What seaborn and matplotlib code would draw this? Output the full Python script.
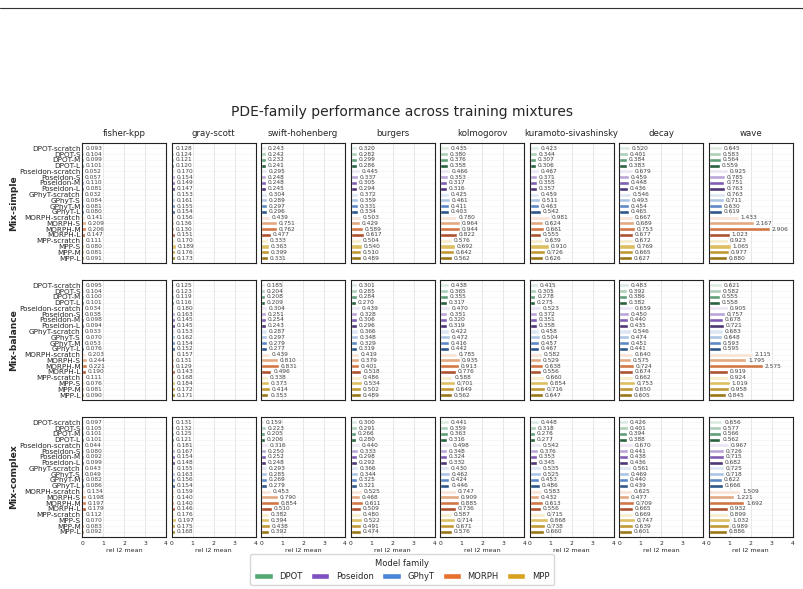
import matplotlib
matplotlib.use("Agg")
import matplotlib.pyplot as plt
import seaborn as sns
import pandas as pd
import numpy as np
from matplotlib.lines import Line2D
from matplotlib.patches import Patch

models = ['DPOT-scratch', 'DPOT-S', 'DPOT-M', 'DPOT-L',
          'Poseidon-scratch', 'Poseidon-S', 'Poseidon-M', 'Poseidon-L',
          'GPhyT-scratch', 'GPhyT-S', 'GPhyT-M', 'GPhyT-L',
          'MORPH-scratch', 'MORPH-S', 'MORPH-M', 'MORPH-L',
          'MPP-scratch', 'MPP-S', 'MPP-M', 'MPP-L']
tasks = ['fisher-kpp', 'gray-scott', 'swift-hohenberg', 'burgers',
         'kolmogorov', 'kuramoto-sivashinsky', 'decay', 'wave']
mixtures = ['Mix-simple', 'Mix-balance', 'Mix-complex']
families = ['DPOT', 'Poseidon', 'GPhyT', 'MORPH', 'MPP']

mix_simple = {
    'fisher-kpp': [0.093, 0.104, 0.099, 0.101, 0.052, 0.057, 0.110, 0.081, 0.032, 0.084,
                   0.081, 0.080, 0.141, 0.209, 0.206, 0.147, 0.111, 0.080, 0.081, 0.091],
    'gray-scott': [0.128, 0.124, 0.121, 0.120, 0.170, 0.154, 0.149, 0.147, 0.153, 0.161,
                   0.155, 0.154, 0.156, 0.136, 0.130, 0.151, 0.170, 0.189, 0.176, 0.173],
    'swift-hohenberg': [0.243, 0.242, 0.232, 0.241, 0.295, 0.248, 0.248, 0.245, 0.304, 0.289,
                        0.297, 0.296, 0.439, 0.751, 0.762, 0.477, 0.333, 0.363, 0.399, 0.331],
    'burgers': [0.320, 0.282, 0.299, 0.286, 0.445, 0.337, 0.305, 0.294, 0.372, 0.359,
                0.331, 0.334, 0.503, 0.429, 0.589, 0.617, 0.504, 0.540, 0.510, 0.489],
    'kolmogorov': [0.435, 0.380, 0.376, 0.358, 0.466, 0.353, 0.317, 0.316, 0.425, 0.461,
                   0.411, 0.403, 0.780, 0.964, 0.944, 0.822, 0.576, 0.692, 0.642, 0.562],
    'kuramoto-sivashinsky': [0.423, 0.344, 0.307, 0.306, 0.467, 0.371, 0.355, 0.357, 0.459, 0.511,
                             0.463, 0.542, 0.981, 0.624, 0.661, 0.555, 0.639, 0.910, 0.726, 0.626],
    'decay': [0.520, 0.401, 0.384, 0.383, 0.679, 0.459, 0.448, 0.436, 0.546, 0.493,
              0.454, 0.465, 0.667, 0.689, 0.753, 0.677, 0.672, 0.769, 0.665, 0.627],
    'wave': [0.645, 0.583, 0.564, 0.559, 0.925, 0.785, 0.751, 0.763, 0.763, 0.711,
             0.630, 0.619, 1.433, 2.167, 2.906, 1.023, 0.923, 1.065, 0.977, 0.880],
}
mix_balance = {
    'fisher-kpp': [0.095, 0.104, 0.100, 0.101, 0.034, 0.038, 0.098, 0.094, 0.033, 0.070,
                   0.053, 0.076, 0.203, 0.244, 0.221, 0.190, 0.111, 0.076, 0.081, 0.090],
    'gray-scott': [0.125, 0.123, 0.119, 0.116, 0.180, 0.163, 0.145, 0.145, 0.153, 0.162,
                   0.154, 0.152, 0.157, 0.131, 0.129, 0.143, 0.168, 0.184, 0.172, 0.171],
    'swift-hohenberg': [0.185, 0.204, 0.208, 0.209, 0.304, 0.251, 0.254, 0.243, 0.287, 0.297,
                        0.279, 0.277, 0.439, 0.810, 0.831, 0.496, 0.338, 0.373, 0.414, 0.353],
    'burgers': [0.301, 0.285, 0.284, 0.270, 0.439, 0.328, 0.306, 0.296, 0.366, 0.348,
                0.329, 0.319, 0.419, 0.379, 0.401, 0.518, 0.486, 0.534, 0.502, 0.489],
    'kolmogorov': [0.438, 0.365, 0.355, 0.317, 0.470, 0.351, 0.320, 0.319, 0.422, 0.472,
                   0.416, 0.442, 0.785, 0.935, 0.913, 0.776, 0.588, 0.701, 0.649, 0.562],
    'kuramoto-sivashinsky': [0.415, 0.305, 0.278, 0.275, 0.523, 0.372, 0.351, 0.358, 0.458, 0.504,
                             0.457, 0.467, 0.582, 0.529, 0.638, 0.556, 0.660, 0.854, 0.716, 0.647],
    'decay': [0.483, 0.392, 0.386, 0.382, 0.659, 0.450, 0.440, 0.435, 0.546, 0.474,
              0.451, 0.441, 0.640, 0.575, 0.724, 0.674, 0.662, 0.753, 0.650, 0.605],
    'wave': [0.621, 0.582, 0.555, 0.558, 0.905, 0.757, 0.678, 0.721, 0.683, 0.648,
             0.593, 0.595, 2.115, 1.795, 2.575, 0.919, 0.924, 1.019, 0.958, 0.845],
}
mix_complex = {
    'fisher-kpp': [0.097, 0.105, 0.101, 0.101, 0.044, 0.080, 0.092, 0.099, 0.043, 0.049,
                   0.082, 0.086, 0.134, 0.198, 0.197, 0.179, 0.112, 0.070, 0.083, 0.092],
    'gray-scott': [0.131, 0.132, 0.125, 0.121, 0.181, 0.167, 0.154, 0.148, 0.155, 0.163,
                   0.156, 0.154, 0.159, 0.140, 0.140, 0.146, 0.176, 0.197, 0.175, 0.168],
    'swift-hohenberg': [0.159, 0.223, 0.205, 0.206, 0.316, 0.250, 0.252, 0.248, 0.293, 0.285,
                        0.269, 0.279, 0.453, 0.790, 0.854, 0.510, 0.382, 0.394, 0.438, 0.392],
    'burgers': [0.300, 0.291, 0.266, 0.280, 0.440, 0.333, 0.298, 0.292, 0.366, 0.344,
                0.325, 0.321, 0.525, 0.468, 0.611, 0.509, 0.480, 0.522, 0.491, 0.474],
    'kolmogorov': [0.441, 0.359, 0.363, 0.316, 0.498, 0.348, 0.324, 0.332, 0.430, 0.462,
                   0.424, 0.446, 0.747, 0.909, 0.885, 0.736, 0.587, 0.714, 0.671, 0.576],
    'kuramoto-sivashinsky': [0.448, 0.318, 0.276, 0.277, 0.542, 0.376, 0.353, 0.345, 0.535, 0.525,
                             0.453, 0.486, 0.583, 0.432, 0.613, 0.556, 0.715, 0.868, 0.738, 0.660],
    'decay': [0.426, 0.401, 0.394, 0.388, 0.670, 0.441, 0.438, 0.436, 0.561, 0.469,
              0.440, 0.439, 0.625, 0.477, 0.709, 0.665, 0.669, 0.747, 0.639, 0.601],
    'wave': [0.656, 0.577, 0.566, 0.562, 0.967, 0.726, 0.715, 0.682, 0.725, 0.718,
             0.622, 0.666, 1.509, 1.221, 1.692, 0.932, 0.899, 1.032, 0.989, 0.886],
}
mix_data = [mix_simple, mix_balance, mix_complex]

# scratch -> S -> M -> L, light to dark
shades = {
    'DPOT': ['#d8eedf', '#a6d5b5', '#55a874', '#1d6b3d'],
    'Poseidon': ['#ece3f7', '#b89ee0', '#7e4fc0', '#4a2b80'],
    'GPhyT': ['#d9e6f8', '#a3c4ee', '#4a86d8', '#1e5699'],
    'MORPH': ['#fde1d1', '#f4a56e', '#e8702e', '#c2481a'],
    'MPP': ['#fdf0c3', '#f2c84b', '#d9a21e', '#b07f00'],
}
family_color = {'DPOT': '#55a874', 'Poseidon': '#7e4fc0', 'GPhyT': '#4a86d8',
                'MORPH': '#e8702e', 'MPP': '#d9a21e'}
palette = {}
for f in families:
    for m, c in zip([m for m in models if m.startswith(f + '-')], shades[f]):
        palette[m] = c

sns.set_style('whitegrid')
plt.rcParams['font.family'] = ['DejaVu Sans']

fig, axes = plt.subplots(3, 8, figsize=(8.04, 5.89), dpi=100, sharex=True, sharey=True)
fig.subplots_adjust(left=0.102, right=0.986, top=0.757, bottom=0.088,
                    wspace=0.065, hspace=0.14)

for r, mix in enumerate(mixtures):
    for c, task in enumerate(tasks):
        ax = axes[r, c]
        df = pd.DataFrame({'model': models, 'value': mix_data[r][task]})
        sns.barplot(data=df, x='value', y='model', hue='model', palette=palette,
                    order=models, hue_order=models, legend=False, width=0.7,
                    orient='h', ax=ax)
        for cont in ax.containers:
            ax.bar_label(cont, fmt='%.3f', padding=1.2, fontsize=4.2, color='#444444')
        ax.set_xlim(0, 4)
        ax.set_xticks([0, 1, 2, 3, 4])
        ax.set_ylim(19.9, -0.9)
        ax.grid(axis='x', color='#e2e2e2', linewidth=0.6)
        ax.grid(axis='y', color='#f2f2f2', linewidth=0.4)
        ax.tick_params(axis='x', labelsize=4.3, length=2, pad=1)
        ax.tick_params(axis='y', labelsize=5.2, length=0, pad=1)
        for s in ax.spines.values():
            s.set_color('#222222')
            s.set_linewidth(0.8)
        ax.set_ylabel('')
        ax.set_xlabel('rel l2 mean' if r == 2 else '', fontsize=4.6, labelpad=1.5)
        if r == 0:
            ax.set_title(task, fontsize=6.2, pad=5)

# row labels on the far left
for r, mix in enumerate(mixtures):
    pos = axes[r, 0].get_position()
    fig.text(0.017, (pos.y0 + pos.y1) / 2, mix, rotation=90, fontsize=6.6,
             fontweight='bold', ha='center', va='center')

fig.suptitle('PDE-family performance across training mixtures', fontsize=10,
             y=0.822)
fig.add_artist(Line2D([0, 1], [1 - 8 / 589, 1 - 8 / 589], color='#333333', linewidth=0.8))

handles = [Patch(facecolor=family_color[f], label=f) for f in families]
fig.legend(handles=handles, title='Model family', loc='lower center', ncol=5,
           bbox_to_anchor=(0.5, 0.0), fontsize=6, title_fontsize=6,
           frameon=True, handlelength=2.2, columnspacing=1.0,
           borderpad=0.5)

fig.savefig('out.png', dpi=100)
